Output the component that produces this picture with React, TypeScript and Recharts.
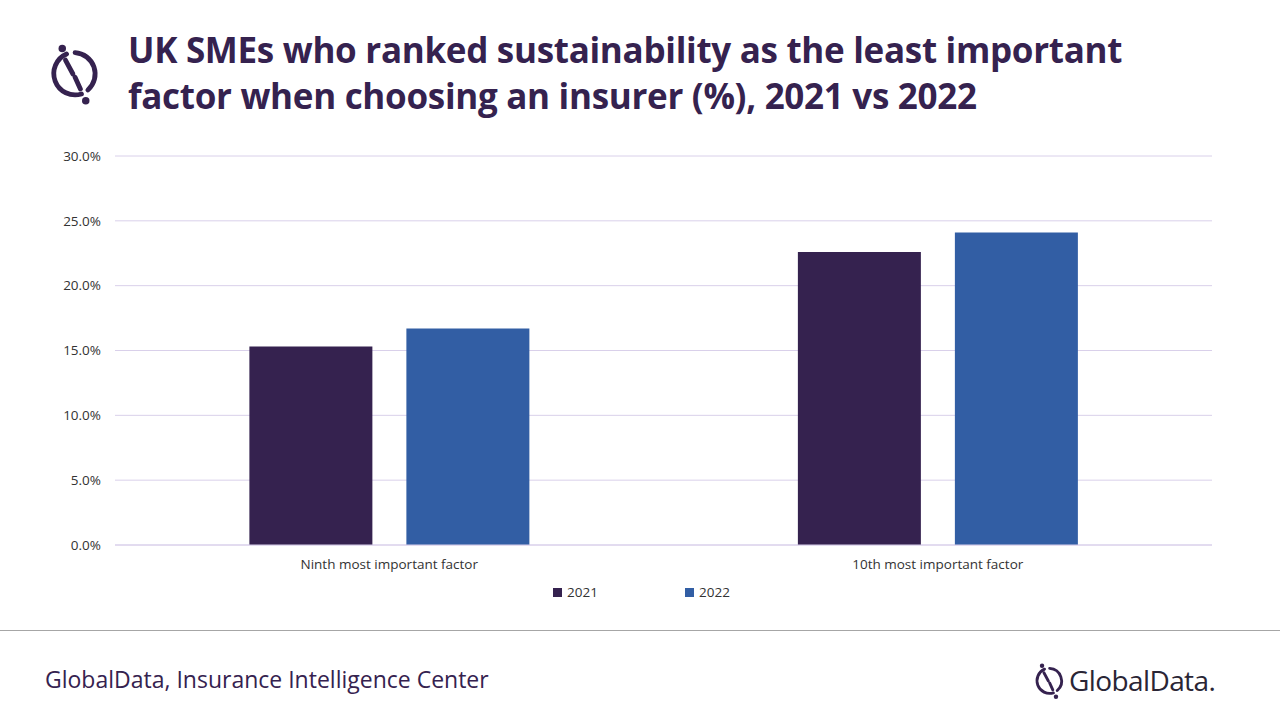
import React from 'react';
import { BarChart, Bar, XAxis, YAxis, CartesianGrid } from 'recharts';

const categories = ['Ninth most important factor', '10th most important factor'];
const values2021 = [15.3, 22.6];
const values2022 = [16.7, 24.1];
const yTicks = [0, 5, 10, 15, 20, 25, 30];

const C2021 = '#35224f';
const C2022 = '#325ea4';
const FONT = '"Open Sans", sans-serif';

const data = categories.map((name, i) => ({ name, y2021: values2021[i], y2022: values2022[i] }));

function Logo({ size, x, y }: { size: number; x: number; y: number }) {
  return (
    <svg width={size} height={size} viewBox="0 0 60 60" style={{ position: 'absolute', left: x, top: y }}>
      <g fill="none" stroke={C2021} strokeWidth={4.5} strokeLinecap="round">
        <path d="M23 11.3 A20 20 0 0 0 37 48.7" />
        <path d="M31 10 A20 20 0 0 1 43 45" />
        <path d="M22 17 L29 30" />
        <path d="M31 33 L36 44" />
      </g>
      <circle cx={19} cy={6} r={3.5} fill={C2021} />
      <circle cx={41} cy={55} r={3.5} fill={C2021} />
    </svg>
  );
}

export default function App() {
  return (
    <div style={{ position: 'fixed', left: 0, top: 0, width: 1280, height: 720, background: '#fff', fontFamily: FONT, overflow: 'hidden' }}>
      <Logo size={64} x={42} y={42} />
      <div style={{ position: 'absolute', left: 128, top: 27, fontSize: 35, fontWeight: 700, color: C2021, lineHeight: '46px', letterSpacing: -0.3, whiteSpace: 'nowrap' }}>
        UK SMEs who ranked sustainability as the least important<br />factor when choosing an insurer (%), 2021 vs 2022
      </div>
      <div style={{ position: 'absolute', left: 0, top: 0 }}>
        <BarChart width={1280} height={620} data={data} margin={{ top: 156, right: 68, bottom: 45, left: 55 }} barCategoryGap="24.5%" barGap={34}>
          <CartesianGrid vertical={false} stroke="#d9d0ea" />
          <XAxis dataKey="name" axisLine={{ stroke: '#d9d0ea' }} tickLine={false} height={30} tick={{ fontSize: 13.5, fill: '#333', fontFamily: FONT }} tickMargin={8} />
          <YAxis width={60} domain={[0, 30]} ticks={yTicks} axisLine={false} tickLine={false} tickSize={0} tickMargin={14}
            tickFormatter={(v) => v.toFixed(1) + '%'} tick={{ fontSize: 13.5, fill: '#333', fontFamily: FONT }} />
          <Bar dataKey="y2021" fill={C2021} isAnimationActive={false} />
          <Bar dataKey="y2022" fill={C2022} isAnimationActive={false} />
        </BarChart>
      </div>
      <div style={{ position: 'absolute', top: 583, left: 553, display: 'flex', fontSize: 13.5, color: '#333' }}>
        <div style={{ display: 'flex', alignItems: 'center', width: 132 }}>
          <span style={{ width: 9, height: 9, background: C2021, marginRight: 5 }} />2021
        </div>
        <div style={{ display: 'flex', alignItems: 'center' }}>
          <span style={{ width: 9, height: 9, background: C2022, marginRight: 5 }} />2022
        </div>
      </div>
      <div style={{ position: 'absolute', left: 0, top: 630, width: 1280, height: 1, background: '#a6a6a6' }} />
      <div style={{ position: 'absolute', left: 45, top: 663, fontSize: 23, color: C2021 }}>GlobalData, Insurance Intelligence Center</div>
      <Logo size={38} x={1030} y={662} />
      <div style={{ position: 'absolute', left: 1069, top: 661, fontSize: 28, color: '#2a2535', letterSpacing: -0.6 }}>GlobalData.</div>
    </div>
  );
}
